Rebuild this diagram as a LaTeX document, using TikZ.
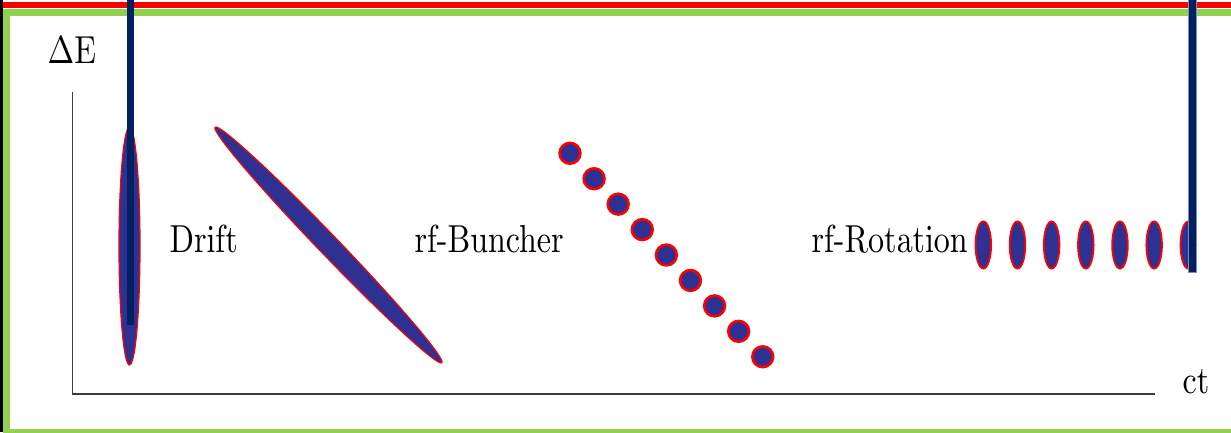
\documentclass[tikz,border=0pt]{standalone}
\usepackage{graphicx}
\definecolor{navy}{RGB}{0,32,96}
\definecolor{bunchblue}{RGB}{46,49,146}
\definecolor{framegreen}{RGB}{146,208,80}
\definecolor{axisgray}{RGB}{60,60,60}
\font\bigrm=cmr10 at 32pt
\newcommand{\lbl}[1]{\scalebox{1}[1.22]{\bigrm #1}}
\begin{document}
\begin{tikzpicture}[x=1pt,y=1pt,
  bunch/.style={fill=bunchblue,draw=red,line width=1.2pt},
  dotbunch/.style={fill=bunchblue,draw=red,line width=2.6pt},
  rotbunch/.style={fill=bunchblue,draw=red,line width=1.8pt},
  axis/.style={draw=axisgray,line width=1.8pt},
  label/.style={inner sep=0pt,anchor=base west},
  marker/.style={draw=navy,line width=7.5pt}]
\useasboundingbox (0,0) rectangle (1231,432);
\begin{scope}
\clip (0,0) rectangle (1231,432);
% frame
\fill[white] (0,0) rectangle (1231,432);
\draw[framegreen,line width=7pt] (6.5,-0.5) -- (6.5,419.5) -- (1240,419.5);
\draw[framegreen,line width=7pt] (6.5,-0.5) -- (1240,-0.5);
\fill[red] (2.5,424) rectangle (1231,430);
\fill[black] (0,0) rectangle (2.5,432);
% axes
\coordinate (top) at (72.5,339);
\coordinate (origin) at (72.5,38);
\coordinate (right) at (1154,38);
\draw[axis,line cap=rect] (top) -- (origin) -- (right);
% bunches
\draw[bunch] (129.5,186) ellipse [x radius=10.5, y radius=119];
\draw[bunch,rotate around={-46.1:(328.5,187)}] (328.5,187) ellipse [x radius=163.5, y radius=10];
\foreach \i in {0,...,8}{
  \draw[dotbunch] ({570+24.09*\i},{278.7-25.43*\i}) circle [radius=10.4];
}
\foreach \i in {0,...,6}{
  \draw[rotbunch] ({983.3+34.17*\i},187) ellipse [x radius=7.8, y radius=23.6];
}
% labels
\node[label] (dE) at (47.5,368) {\lbl{\char1 E}};
\node[label] (drift) at (169.5,180) {\lbl{Drift}};
\node[label] (buncher) at (414.5,180) {\lbl{rf-Buncher}};
\node[label] (rotation) at (811.5,180) {\lbl{rf-Rotation}};
\node[label] (ct) at (1182.5,39) {\lbl{ct}};
% markers
\coordinate (m1a) at (130.5,432);
\coordinate (m1b) at (130.5,107);
\coordinate (m2a) at (1192.5,432);
\coordinate (m2b) at (1192.5,159.3);
\draw[marker] (m1a) -- (m1b);
\draw[draw={rgb,255:red,120;green,140;blue,190},line width=9pt] (m2a) -- (m2b);
\draw[marker] (m2a) -- ([yshift=0.7pt]m2b);
\end{scope}
\end{tikzpicture}
\end{document}
